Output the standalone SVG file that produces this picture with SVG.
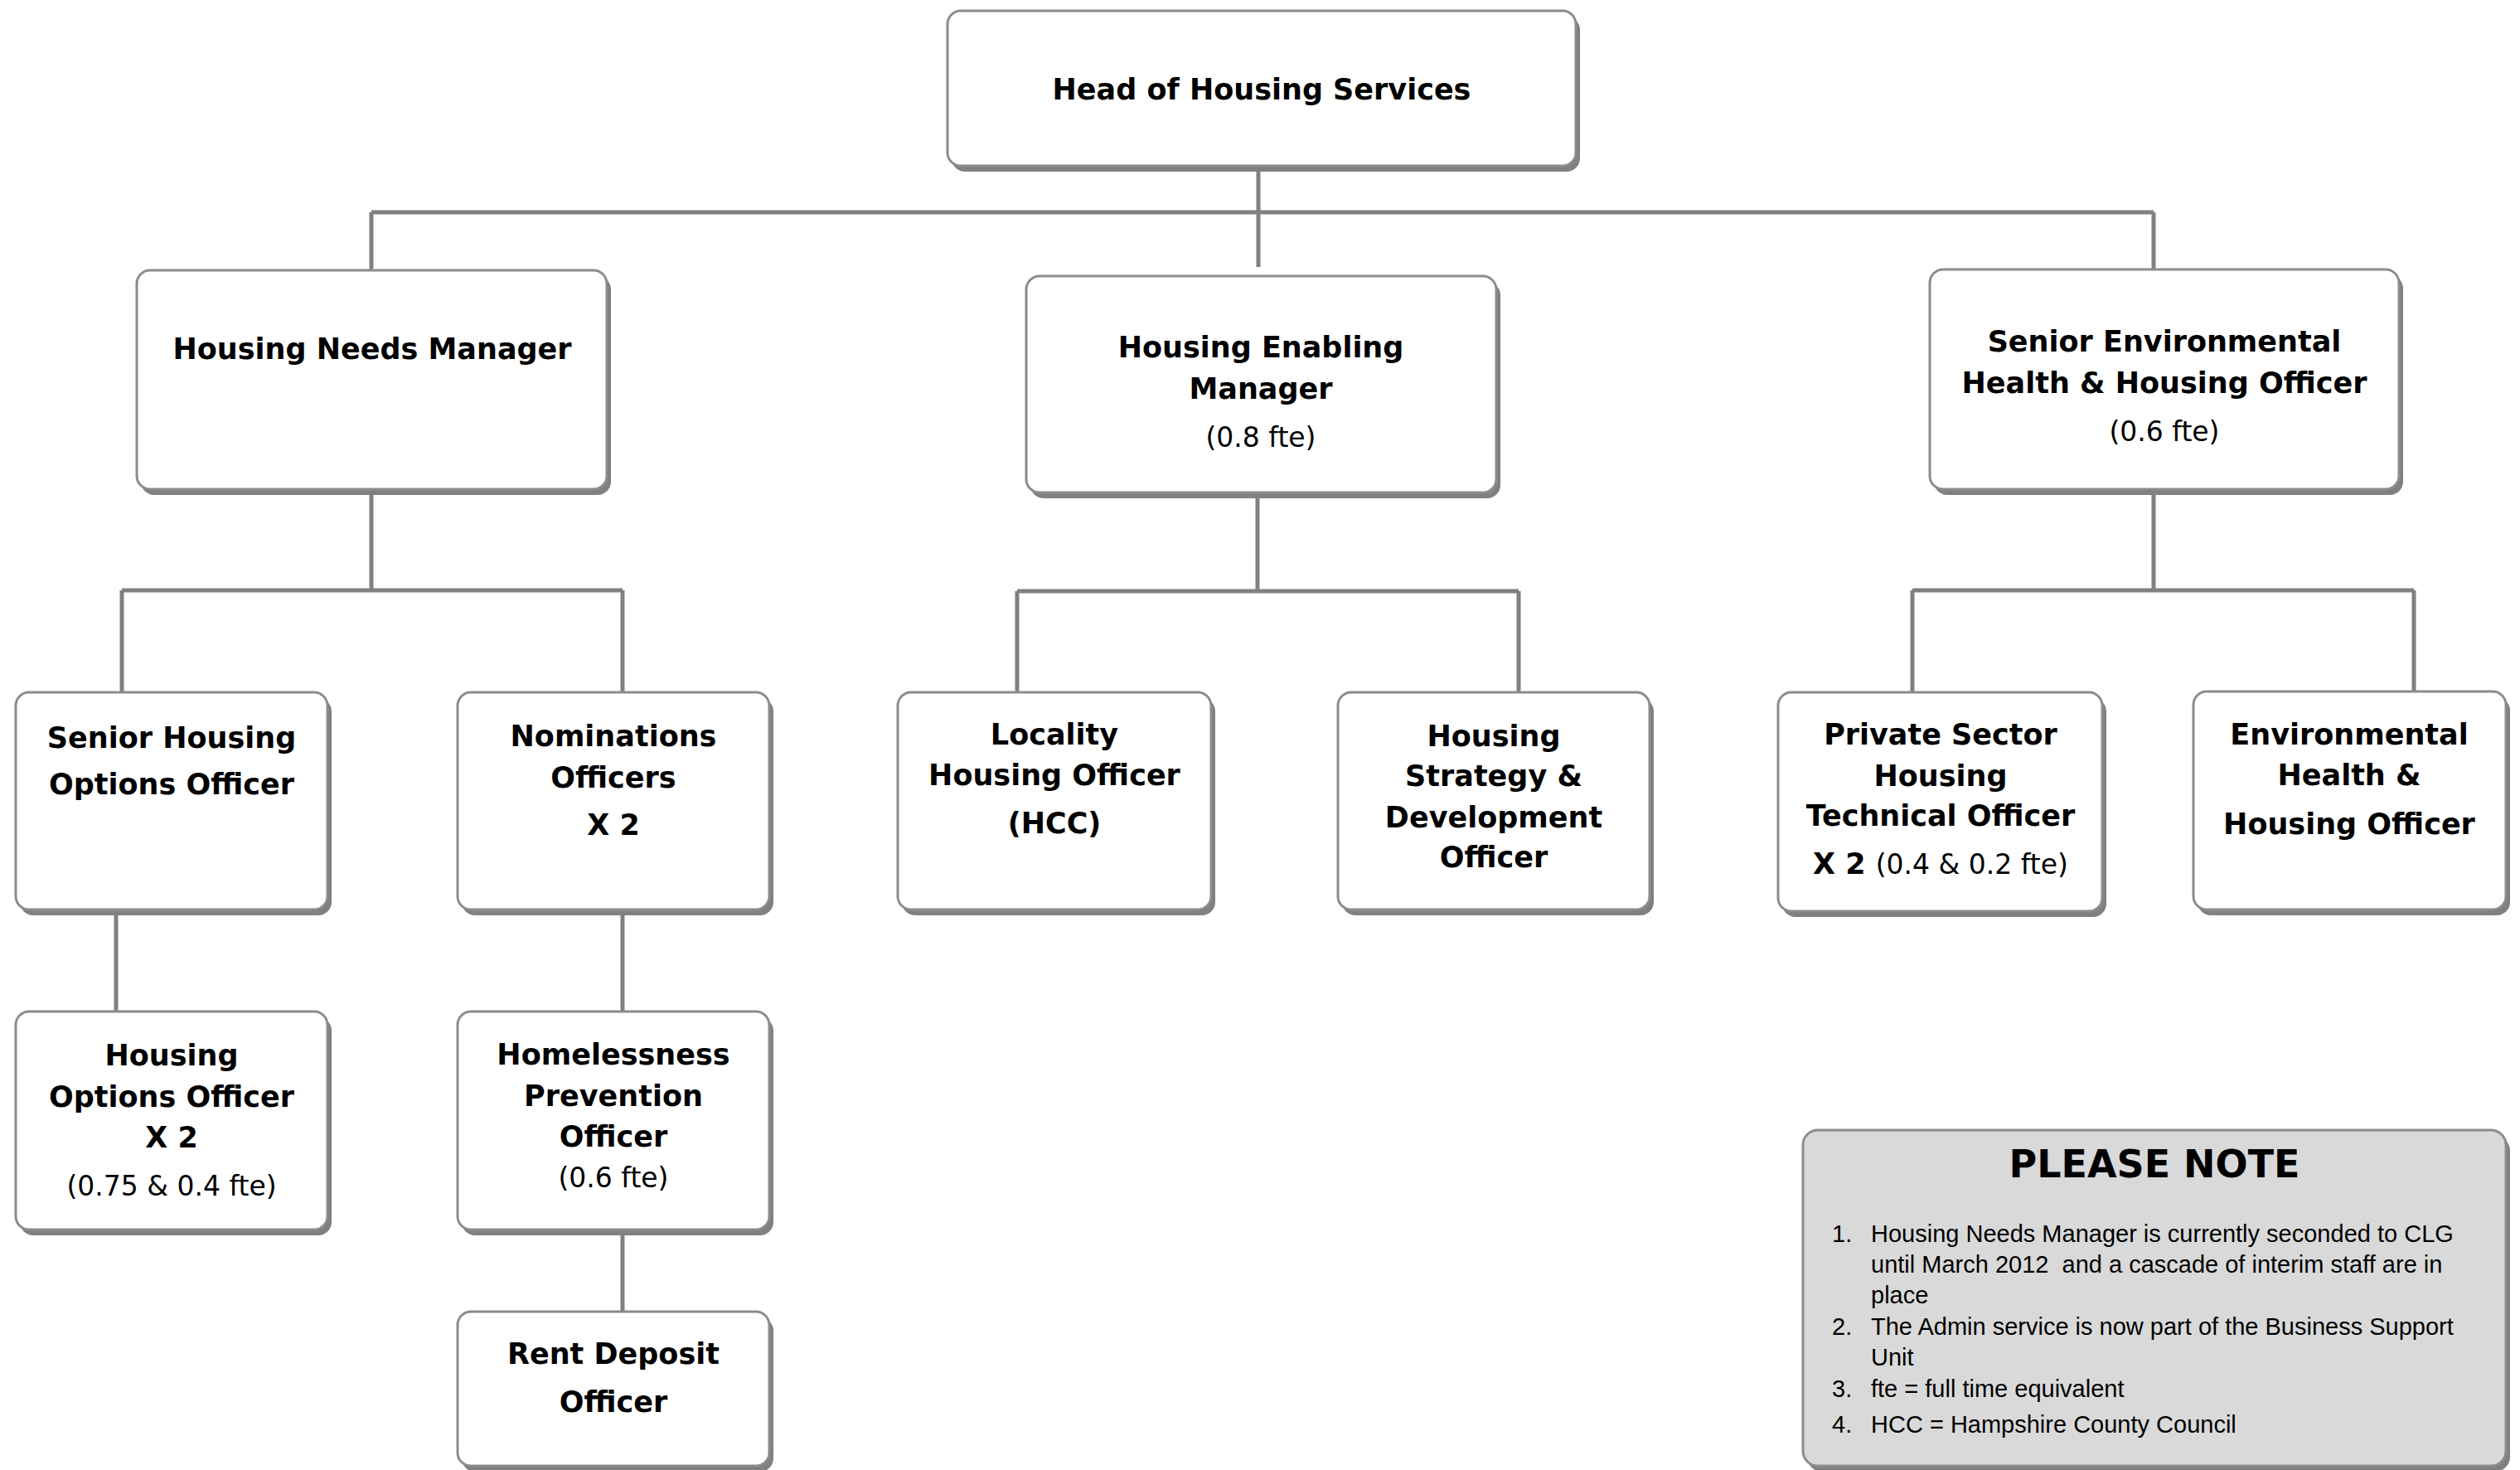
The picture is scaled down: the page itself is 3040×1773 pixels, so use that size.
<svg xmlns="http://www.w3.org/2000/svg" width="3040" height="1773" viewBox="0 0 3040 1773">
<style>
.box{fill:#ffffff;stroke:#8c8c8c;stroke-width:3}
.shadow{fill:#808080}
.note{fill:#d9d9d9;stroke:#8c8c8c;stroke-width:3}
.conn{fill:none;stroke:#808080;stroke-width:5;stroke-linecap:butt}
text{font-family:"DejaVu Sans","Liberation Sans",sans-serif;fill:#000000;text-anchor:middle}
.b{font-weight:bold;font-size:35px}
.r{font-weight:normal;font-size:33px}
.t{font-weight:bold;font-size:46px}
.n{font-family:"Liberation Sans","DejaVu Sans",sans-serif;font-size:29px;text-anchor:start}
</style>
<rect x="0" y="0" width="3040" height="1773" fill="#ffffff"/>
<g id="connectors">
<path class="conn" d="M1518 200 V322 M448 256 H2598 M448 256 V326 M2598 256 V326"/>
<path class="conn" d="M448 590 V712 M147 712 H751 M147 712 V835 M751 712 V835"/>
<path class="conn" d="M1517 594 V713 M1227 713 H1832 M1227 713 V835 M1832 713 V835"/>
<path class="conn" d="M2598 590 V712 M2307 712 H2912 M2307 712 V835 M2912 712 V835"/>
<path class="conn" d="M140 1099 V1220 M751 1099 V1220 M751 1485 V1582"/>
</g>
<g id="head">
<rect class="shadow" x="1148" y="20" width="758" height="187" rx="16"/>
<rect class="box" x="1143" y="13" width="758" height="187" rx="16"/>
<text class="b" x="1522" y="120">Head of Housing Services</text>
</g>
<g id="needs-manager">
<rect class="shadow" x="170" y="333" width="567" height="264" rx="16"/>
<rect class="box" x="165" y="326" width="567" height="264" rx="16"/>
<text class="b" x="449" y="433">Housing Needs Manager</text>
</g>
<g id="enabling-manager">
<rect class="shadow" x="1243" y="340" width="567" height="261" rx="16"/>
<rect class="box" x="1238" y="333" width="567" height="261" rx="16"/>
<text class="b" x="1521" y="431">Housing Enabling</text>
<text class="b" x="1521" y="481">Manager</text>
<text class="r" x="1521" y="539">(0.8 fte)</text>
</g>
<g id="senior-env">
<rect class="shadow" x="2333" y="332" width="566" height="265" rx="16"/>
<rect class="box" x="2328" y="325" width="566" height="265" rx="16"/>
<text class="b" x="2611" y="424">Senior Environmental</text>
<text class="b" x="2611" y="474">Health &amp; Housing Officer</text>
<text class="r" x="2611" y="532">(0.6 fte)</text>
</g>
<g id="senior-housing-options">
<rect class="shadow" x="24" y="842" width="376" height="262" rx="16"/>
<rect class="box" x="19" y="835" width="376" height="262" rx="16"/>
<text class="b" x="207" y="902">Senior Housing</text>
<text class="b" x="207" y="958">Options Officer</text>
</g>
<g id="nominations">
<rect class="shadow" x="557" y="842" width="376" height="262" rx="16"/>
<rect class="box" x="552" y="835" width="376" height="262" rx="16"/>
<text class="b" x="740" y="900">Nominations</text>
<text class="b" x="740" y="950">Officers</text>
<text class="b" x="740" y="1007">X 2</text>
</g>
<g id="locality">
<rect class="shadow" x="1088" y="842" width="378" height="262" rx="16"/>
<rect class="box" x="1083" y="835" width="378" height="262" rx="16"/>
<text class="b" x="1272" y="898">Locality</text>
<text class="b" x="1272" y="947">Housing Officer</text>
<text class="b" x="1272" y="1005">(HCC)</text>
</g>
<g id="strategy">
<rect class="shadow" x="1619" y="842" width="376" height="262" rx="16"/>
<rect class="box" x="1614" y="835" width="376" height="262" rx="16"/>
<text class="b" x="1802" y="900">Housing</text>
<text class="b" x="1802" y="948">Strategy &amp;</text>
<text class="b" x="1802" y="998">Development</text>
<text class="b" x="1802" y="1046">Officer</text>
</g>
<g id="private-sector">
<rect class="shadow" x="2150" y="842" width="391" height="264" rx="16"/>
<rect class="box" x="2145" y="835" width="391" height="264" rx="16"/>
<text class="b" x="2341" y="898">Private Sector</text>
<text class="b" x="2341" y="948">Housing</text>
<text class="b" x="2341" y="996">Technical Officer</text>
<text x="2341" y="1054"><tspan class="b">X 2 </tspan><tspan class="r">(0.4 &amp; 0.2 fte)</tspan></text>
</g>
<g id="env-health">
<rect class="shadow" x="2651" y="841" width="377" height="263" rx="16"/>
<rect class="box" x="2646" y="834" width="377" height="263" rx="16"/>
<text class="b" x="2834" y="898">Environmental</text>
<text class="b" x="2834" y="947">Health &amp;</text>
<text class="b" x="2834" y="1006">Housing Officer</text>
</g>
<g id="housing-options">
<rect class="shadow" x="24" y="1227" width="376" height="263" rx="16"/>
<rect class="box" x="19" y="1220" width="376" height="263" rx="16"/>
<text class="b" x="207" y="1285">Housing</text>
<text class="b" x="207" y="1335">Options Officer</text>
<text class="b" x="207" y="1384">X 2</text>
<text class="r" x="207" y="1442">(0.75 &amp; 0.4 fte)</text>
</g>
<g id="homelessness">
<rect class="shadow" x="557" y="1227" width="376" height="263" rx="16"/>
<rect class="box" x="552" y="1220" width="376" height="263" rx="16"/>
<text class="b" x="740" y="1284">Homelessness</text>
<text class="b" x="740" y="1334">Prevention</text>
<text class="b" x="740" y="1383">Officer</text>
<text class="r" x="740" y="1432">(0.6 fte)</text>
</g>
<g id="rent-deposit">
<rect class="shadow" x="557" y="1589" width="376" height="186" rx="16"/>
<rect class="box" x="552" y="1582" width="376" height="186" rx="16"/>
<text class="b" x="740" y="1645">Rent Deposit</text>
<text class="b" x="740" y="1703">Officer</text>
</g>
<g id="please-note">
<rect class="shadow" x="2180" y="1370" width="848" height="405" rx="18"/>
<rect class="note" x="2175" y="1363" width="848" height="405" rx="18"/>
<text class="t" x="2599" y="1420">PLEASE NOTE</text>
<text class="n" x="2210" y="1498">1.</text>
<text class="n" x="2257" y="1498">Housing Needs Manager is currently seconded to CLG</text>
<text class="n" x="2257" y="1535" xml:space="preserve">until March 2012  and a cascade of interim staff are in</text>
<text class="n" x="2257" y="1572">place</text>
<text class="n" x="2210" y="1610">2.</text>
<text class="n" x="2257" y="1610">The Admin service is now part of the Business Support</text>
<text class="n" x="2257" y="1647">Unit</text>
<text class="n" x="2210" y="1685">3.</text>
<text class="n" x="2257" y="1685">fte = full time equivalent</text>
<text class="n" x="2210" y="1728">4.</text>
<text class="n" x="2257" y="1728">HCC = Hampshire County Council</text>
</g>
</svg>
